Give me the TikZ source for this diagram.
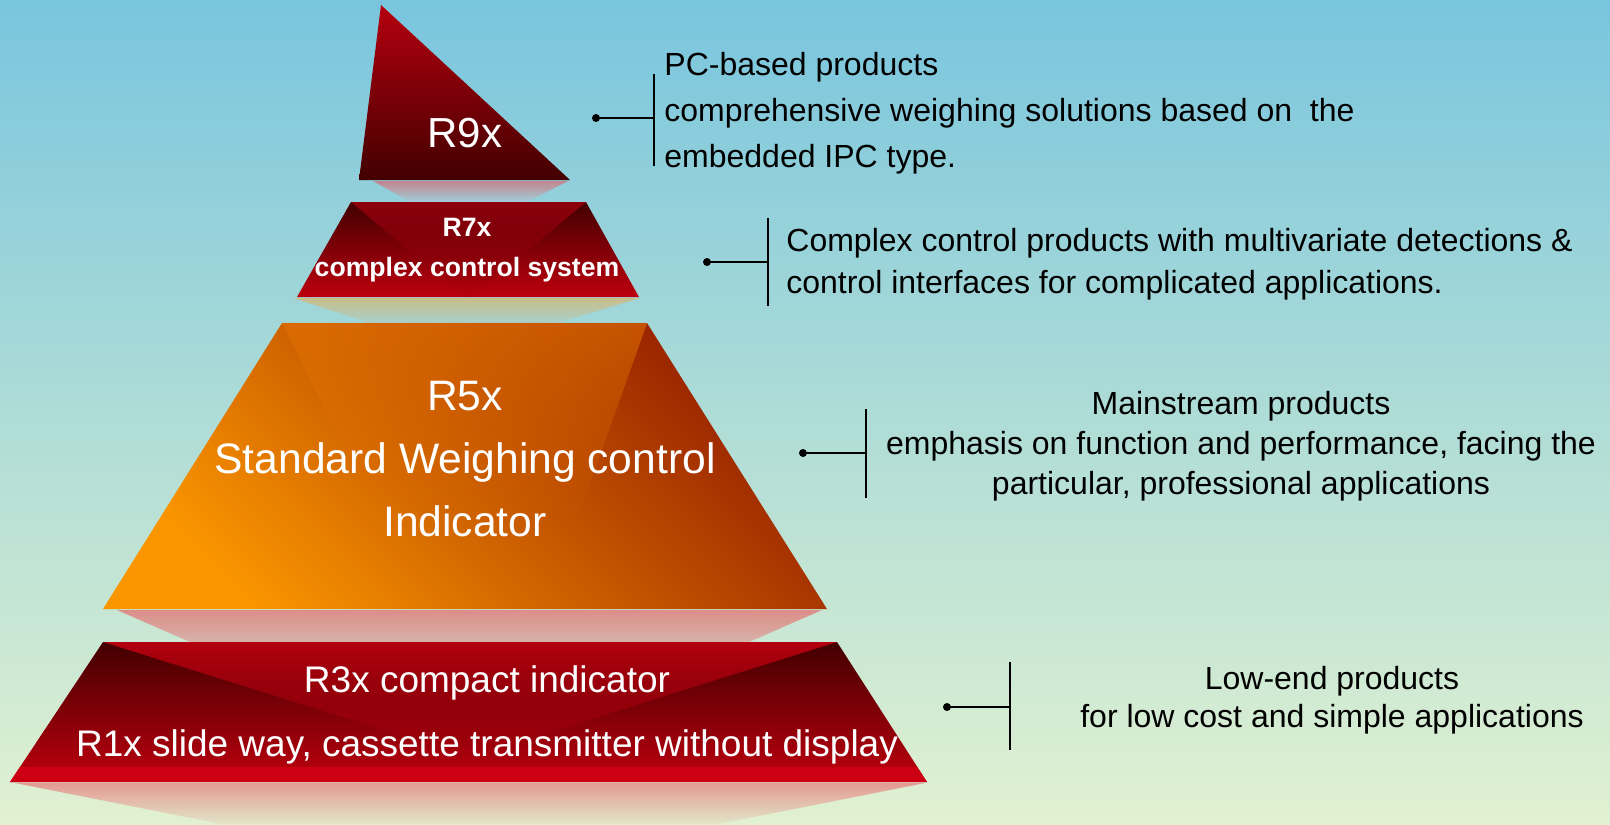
\documentclass[tikz,border=0pt]{standalone}
\usepackage{fontspec}
\setmainfont{Liberation Sans}
\usetikzlibrary{positioning,fadings}

\definecolor{skytop}{HTML}{79C5DE}
\definecolor{skymid}{HTML}{AEDCD7}
\definecolor{skybot}{HTML}{E1F1D1}
\definecolor{darkred}{HTML}{420000}
\definecolor{brightred}{HTML}{BE000F}
\definecolor{tipred}{HTML}{B5000F}
\definecolor{midred}{HTML}{8E000C}
\definecolor{stripred}{HTML}{CC0012}
\definecolor{orangeL}{HTML}{FB9600}
\definecolor{orangeR}{HTML}{962000}
\definecolor{orangeC}{HTML}{E47200}

\begin{document}
\begin{tikzpicture}[x=0.5pt, y=-0.5pt,
    tier/.style={text=white, align=center, inner sep=0pt},
    note/.style={text=black, inner sep=0pt},
    dot/.style={circle, fill=black, inner sep=0pt, minimum size=4pt},
    bracket/.style={line width=1pt}]
    % background
    \shade[top color=skytop, bottom color=skybot, middle color=skymid] (0,0) rectangle (1610,824);
    \useasboundingbox (0,0) rectangle (1610,824);

    % reflections under the tiers
    \shade[top color={rgb,255:red,194;green,133;blue,143}, bottom color={rgb,255:red,159;green,207;blue,218}]
        (373,181) -- (568,181) -- (527,202) -- (410,202) -- cycle;
    \shade[top color={rgb,255:red,200;green,190;blue,136}, bottom color={rgb,255:red,168;green,208;blue,204}]
        (293,298) -- (640,298) -- (557,323) -- (370,323) -- cycle;
    \shade[top color={rgb,255:red,220;green,142;blue,138}, bottom color={rgb,255:red,215;green,178;blue,168}]
        (117,610) -- (822,610) -- (749,642) -- (190,642) -- cycle;
    \shade[top color={rgb,255:red,227;green,154;blue,146}, bottom color={rgb,255:red,226;green,230;blue,201}]
        (15,783) -- (925,783) -- (719,824) -- (221,824) -- cycle;

    % R9x
    \shade[top color=tipred, bottom color=darkred] (381,5) -- (570,180) -- (359,180) -- cycle;

    % R7x
    \shade[top color=darkred, bottom color=brightred] (351,202) -- (586,202) -- (639,297) -- (297,297) -- cycle;
    \begin{scope}
        \clip (351,202) -- (586,202) -- (639,297) -- (297,297) -- cycle;
        \fill[midred, path fading=south] (351,202) -- (586,202) -- (468,300) -- cycle;
    \end{scope}

    % R5x
    \shade[top color=orangeR, bottom color=orangeL, shading angle=-45] (282,323) -- (647,323) -- (827,609) -- (103,609) -- cycle;
    \fill[orangeC, fill opacity=0.6, path fading=south] (282,323) -- (647,323) -- (577,520) -- (380,520) -- cycle;

    % R3x
    \shade[top color=darkred, bottom color=brightred] (103,642) -- (837,642) -- (927,782) -- (10,782) -- cycle;
    \begin{scope}
        \clip (103,642) -- (837,642) -- (927,782) -- (10,782) -- cycle;
        \fill[tipred, path fading=south] (103,642) -- (837,642) -- (470,757) -- cycle;
    \end{scope}
    \fill[stripred] (20,767) -- (917,767) -- (927,782) -- (10,782) -- cycle;

    % tier labels
    \node[tier, font=\fontsize{21}{25}\selectfont] (r9) at (465,133) {R9x};
    \node[tier, font=\bfseries\fontsize{13.3}{20}\selectfont] (r7) at (467,250) {R7x\\complex control system};
    \node[tier, font=\fontsize{21.3}{31.5}\selectfont] (r5) at (465,459) {R5x\\Standard Weighing control\\Indicator};
    \node[tier, font=\fontsize{18.5}{32}\selectfont] (r3) at (487,715) {R3x compact indicator\\R1x slide way, cassette transmitter without display};

    % notes
    \node[note, align=left, anchor=west, font=\fontsize{16}{23}\selectfont] (n9) at (664,113)
        {PC-based products\\comprehensive weighing solutions based on\ \ the\\embedded IPC type.};
    \node[note, align=left, anchor=west, font=\fontsize{16}{21}\selectfont] (n7) at (786,264)
        {Complex control products with multivariate detections \&\\control interfaces for complicated applications.};
    \node[note, align=center, font=\fontsize{16}{20}\selectfont] (n5) at (1241,446)
        {Mainstream products\\emphasis on function and performance, facing the\\particular, professional applications};
    \node[note, align=center, font=\fontsize{16}{19}\selectfont] (n3) at (1332,700)
        {Low-end products\\for low cost and simple applications};

    % brackets
    \node[dot] (p9) at (596,118) {};
    \coordinate (b9) at (654,118);
    \coordinate (b9t) at (654,74);
    \coordinate (b9b) at (654,166);
    \draw[bracket] (p9.center) -- (b9);
    \draw[bracket] (b9t) -- (b9b);

    \node[dot] (p7) at (707,262) {};
    \coordinate (b7) at (768,262);
    \coordinate (b7t) at (768,218);
    \coordinate (b7b) at (768,306);
    \draw[bracket] (p7.center) -- (b7);
    \draw[bracket] (b7t) -- (b7b);

    \node[dot] (p5) at (803,453) {};
    \coordinate (b5) at (866,453);
    \coordinate (b5t) at (866,409);
    \coordinate (b5b) at (866,498);
    \draw[bracket] (p5.center) -- (b5);
    \draw[bracket] (b5t) -- (b5b);

    \node[dot] (p3) at (947,707) {};
    \coordinate (b3) at (1010,707);
    \coordinate (b3t) at (1010,662);
    \coordinate (b3b) at (1010,750);
    \draw[bracket] (p3.center) -- (b3);
    \draw[bracket] (b3t) -- (b3b);
\end{tikzpicture}
\end{document}
